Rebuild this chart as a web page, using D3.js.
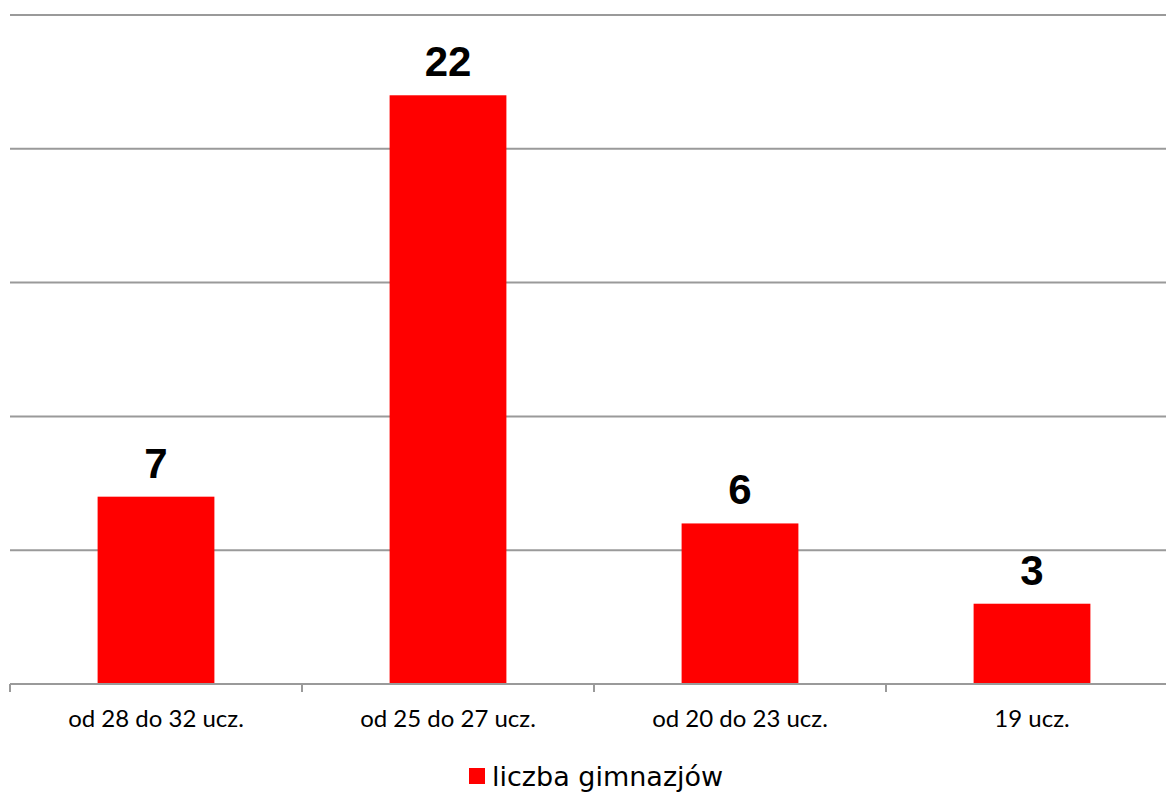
<!DOCTYPE html>
<html>
<head>
    <meta charset="utf-8">
    <title>Liczba gimnazjów</title>
    <script src="https://d3js.org/d3.v7.min.js"></script>
    <style>
        body {
            margin: 0;
            overflow: hidden;
            background: #fff;
        }
        .grid line {
            stroke: #9a9a9a;
            stroke-width: 2;
        }
        .cat-label {
            font-family: Lato, "Open Sans", sans-serif;
            font-size: 24px;
            fill: #000;
        }
        .value-label {
            font-family: "Liberation Sans", Arial, sans-serif;
            font-weight: bold;
            font-size: 42px;
            fill: #000;
        }
        .legend text {
            font-family: "DejaVu Sans", Verdana, sans-serif;
            font-size: 27px;
            fill: #000;
        }
    </style>
</head>
<body>
    <div id="chart"></div>
    <script>
        // Data
        const categories = ['od 28 do 32 ucz.', 'od 25 do 27 ucz.', 'od 20 do 23 ucz.', '19 ucz.'];
        const values = [7, 22, 6, 3];
        const yTicks = [0, 5, 10, 15, 20, 25];
        const seriesName = 'liczba gimnazjów';

        const width = 1166;
        const height = 792;
        const margin = { left: 10, top: 15, bottom: 108 };
        const plotWidth = 1168;  // last band runs past the right edge
        const axisY = height - margin.bottom;

        const svg = d3.select('#chart')
            .append('svg')
            .attr('width', width)
            .attr('height', height);

        const x = d3.scaleBand()
            .domain(categories)
            .range([margin.left, margin.left + plotWidth])
            .paddingInner(0.6)
            .paddingOuter(0.3);

        const y = d3.scaleLinear()
            .domain([0, 25])
            .range([axisY, margin.top]);

        // Gridlines
        svg.append('g')
            .attr('class', 'grid')
            .selectAll('line')
            .data(yTicks.filter(d => d > 0))
            .enter().append('line')
            .attr('x1', margin.left)
            .attr('x2', width)
            .attr('y1', d => y(d))
            .attr('y2', d => y(d));

        // Bars
        svg.append('g')
            .selectAll('rect')
            .data(values)
            .enter().append('rect')
            .attr('x', (d, i) => x(categories[i]))
            .attr('y', d => y(d))
            .attr('width', x.bandwidth())
            .attr('height', d => axisY - y(d))
            .style('fill', '#ff0000');

        // X axis line + ticks on category boundaries
        const axis = svg.append('g').attr('class', 'grid');
        axis.append('line')
            .attr('x1', margin.left)
            .attr('x2', width)
            .attr('y1', axisY)
            .attr('y2', axisY);
        axis.selectAll('.tick')
            .data(d3.range(categories.length + 1))
            .enter().append('line')
            .attr('x1', i => margin.left + i * x.step())
            .attr('x2', i => margin.left + i * x.step())
            .attr('y1', axisY)
            .attr('y2', axisY + 8);

        // Category labels
        svg.append('g')
            .selectAll('text')
            .data(categories)
            .enter().append('text')
            .attr('class', 'cat-label')
            .attr('x', d => x(d) + x.bandwidth() / 2)
            .attr('y', axisY + 43)
            .attr('text-anchor', 'middle')
            .text(d => d);

        // Value labels
        svg.append('g')
            .selectAll('text')
            .data(values)
            .enter().append('text')
            .attr('class', 'value-label')
            .attr('x', (d, i) => x(categories[i]) + x.bandwidth() / 2)
            .attr('y', d => y(d) - 19)
            .attr('text-anchor', 'middle')
            .text(d => d);

        // Legend
        const legend = svg.append('g').attr('class', 'legend');
        legend.append('rect')
            .attr('x', 469)
            .attr('y', 768)
            .attr('width', 16)
            .attr('height', 16)
            .style('fill', '#ff0000');
        legend.append('text')
            .attr('x', 492)
            .attr('y', 786)
            .text(seriesName);
    </script>
</body>
</html>
